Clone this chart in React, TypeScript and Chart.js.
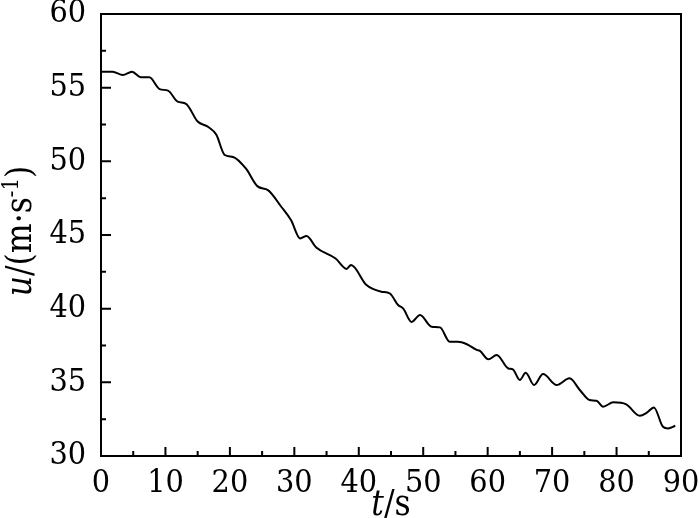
import React, { useEffect, useRef } from "react";
import { Chart, registerables } from "chart.js";

Chart.register(...registerables);

const tValues = [0, 1.8, 3.4, 4.8, 6.2, 7.5, 9.1, 10.4, 11.9, 13.2, 15.0, 16.6, 17.9, 19.2, 20.5, 22.5, 24.3, 25.9, 28.0, 29.5, 30.9, 31.9, 33.4, 36.4, 38.1, 38.8, 41.2, 43.5, 44.8, 46.1, 46.9, 48.2, 49.5, 51.3, 52.6, 54.1, 55.4, 56.7, 58.3, 58.8, 60.1, 61.4, 63.2, 63.9, 65.0, 65.9, 67.2, 68.6, 70.7, 72.7, 74.3, 75.8, 76.9, 77.9, 79.5, 81.5, 83.6, 84.7, 85.8, 87.2, 88.0, 89.1];
const uValues = [56.08, 56.08, 55.86, 56.08, 55.7, 55.7, 54.9, 54.8, 54.05, 53.9, 52.7, 52.35, 51.8, 50.43, 50.3, 49.5, 48.3, 48.05, 46.9, 46.0, 44.77, 44.93, 44.15, 43.4, 42.7, 42.96, 41.6, 41.15, 41.04, 40.25, 40.0, 39.1, 39.57, 38.77, 38.73, 37.76, 37.76, 37.6, 37.2, 37.14, 36.56, 36.85, 35.94, 35.88, 35.16, 35.65, 34.82, 35.56, 34.82, 35.27, 34.48, 33.80, 33.75, 33.35, 33.64, 33.5, 32.73, 32.94, 33.3, 31.98, 31.87, 32.05];

const xMin = 0, xMax = 90, xMajor = 10, xMinor = 5;
const yMin = 30, yMax = 60, yMajor = 5, yMinor = 2.5;

const SERIF = "'DejaVu Serif Condensed', 'Liberation Serif', 'DejaVu Serif', serif";

const framePlugin = {
  id: "frame",
  afterDraw(chart: any) {
    const { ctx, chartArea: a, scales } = chart;
    const xs = scales.x, ys = scales.y;
    ctx.save();
    ctx.strokeStyle = "#000";
    ctx.lineWidth = 2;
    ctx.strokeRect(a.left, a.top, a.right - a.left, a.bottom - a.top);
    ctx.beginPath();
    for (let v = xMin + xMinor; v < xMax; v += xMinor) {
      const px = xs.getPixelForValue(v);
      const len = Math.abs(v % xMajor) < 1e-6 ? 9 : 5;
      ctx.moveTo(px, a.bottom);
      ctx.lineTo(px, a.bottom - len);
    }
    for (let v = yMin + yMinor; v < yMax; v += yMinor) {
      const py = ys.getPixelForValue(v);
      const len = Math.abs(v % yMajor) < 1e-6 ? 10 : 5;
      ctx.moveTo(a.left, py);
      ctx.lineTo(a.left + len, py);
    }
    ctx.stroke();

    ctx.fillStyle = "#000";
    ctx.textBaseline = "alphabetic";
    const big = 35, small = 22;
    const fIt = `italic ${big}px ${SERIF}`;
    const fN = `${big}px ${SERIF}`;
    ctx.font = fIt;
    const wT = ctx.measureText("t").width;
    ctx.font = fN;
    const wS = ctx.measureText("/s").width;
    const cx = (a.left + a.right) / 2;
    const x0 = cx - (wT + wS) / 2;
    const by = 515;
    ctx.font = fIt;
    ctx.fillText("t", x0, by);
    ctx.font = fN;
    ctx.fillText("/s", x0 + wT, by);

    const parts = [
      { t: "u", f: fIt, dy: 0 },
      { t: "/(m·s", f: fN, dy: 0 },
      { t: "-1", f: `${small}px ${SERIF}`, dy: -13 },
      { t: ")", f: fN, dy: 0 },
    ];
    let total = 0;
    const widths = parts.map((p) => {
      ctx.font = p.f;
      const w = ctx.measureText(p.t).width;
      total += w;
      return w;
    });
    const cy = 231;
    ctx.translate(31, cy);
    ctx.rotate(-Math.PI / 2);
    let px = -total / 2;
    parts.forEach((p, i) => {
      ctx.font = p.f;
      ctx.fillText(p.t, px, p.dy);
      px += widths[i];
    });
    ctx.restore();
  },
};

export default function App() {
  const ref = useRef<HTMLCanvasElement>(null);
  useEffect(() => {
    if (!ref.current) return;
    const chart = new Chart(ref.current, {
      type: "line",
      data: {
        datasets: [
          {
            data: tValues.map((t, i) => ({ x: t, y: uValues[i] })),
            borderColor: "#000",
            borderWidth: 2,
            pointRadius: 0,
            cubicInterpolationMode: "monotone",
            fill: false,
          },
        ],
      },
      options: {
        animation: false,
        responsive: false,
        maintainAspectRatio: false,
        layout: { padding: { top: 14, right: 19, left: 0, bottom: 0 } },
        plugins: { legend: { display: false }, tooltip: { enabled: false } },
        scales: {
          x: {
            type: "linear",
            min: xMin,
            max: xMax,
            grid: { display: false },
            border: { display: false },
            ticks: {
              stepSize: xMajor,
              color: "#000",
              padding: 4,
              maxRotation: 0,
              font: { family: SERIF, size: 32, lineHeight: 1 },
            },
            afterFit(s: any) {
              s.height = 62;
              s.paddingLeft = 0;
              s.paddingRight = 0;
            },
          },
          y: {
            min: yMin,
            max: yMax,
            grid: { display: false },
            border: { display: false },
            ticks: {
              stepSize: yMajor,
              color: "#000",
              padding: 7,
              font: { family: SERIF, size: 32, lineHeight: 1 },
            },
            afterFit(s: any) {
              s.width = 101;
              s.paddingTop = 0;
              s.paddingBottom = 0;
            },
          },
        },
      },
      plugins: [framePlugin],
    });
    return () => chart.destroy();
  }, []);
  return (
    <div style={{ position: "fixed", left: 0, top: 0, width: 700, height: 518, background: "#fff" }}>
      <canvas ref={ref} width={700} height={518} style={{ width: 700, height: 518 }} />
    </div>
  );
}
